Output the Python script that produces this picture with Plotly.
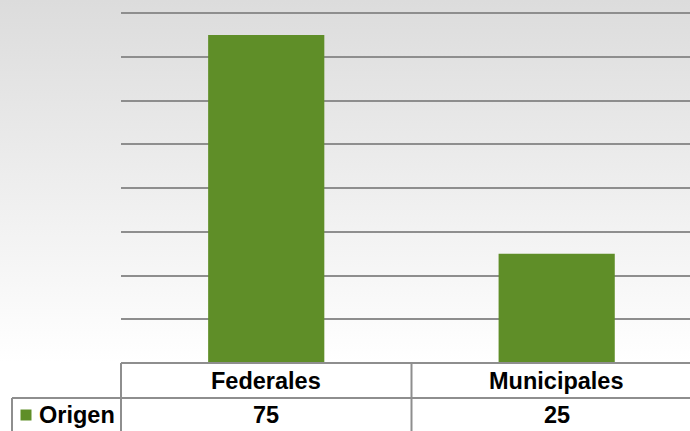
import base64
import plotly.graph_objects as go

# ---- data ----
categories = ["Federales", "Municipales"]
series_name = "Origen"
values = [75, 25]
y_max = 80
y_step = 10

# ---- geometry ----
W, H = 690, 431
ML, MR, MT, MB = 121, 0, 12, 68
PW, PH = W - ML - MR, H - MT - MB

def px_x(px):
    return (px - ML) / PW

def px_y(py):
    return (H - MB - py) / PH

bar_color = "#5f8e28"
grid_color = "#8e8e8e"
line_color = "#8e8e8e"

# gradient background as svg
svg = (
    '<svg xmlns="http://www.w3.org/2000/svg" width="690" height="431" preserveAspectRatio="none">'
    '<defs><linearGradient id="g" x1="0" y1="0" x2="0" y2="1">'
    '<stop offset="0" stop-color="#dcdcdc"/>'
    '<stop offset="0.84" stop-color="#ffffff"/>'
    '<stop offset="1" stop-color="#ffffff"/>'
    '</linearGradient></defs>'
    '<rect width="690" height="431" fill="url(#g)"/></svg>'
)
src = "data:image/svg+xml;base64," + base64.b64encode(svg.encode()).decode()

fig = go.Figure()
fig.add_trace(go.Bar(
    x=categories, y=values, name=series_name,
    marker=dict(color=bar_color, line=dict(width=0)),
    width=0.4, showlegend=False, hoverinfo="skip",
))

shapes = []
# table lines
def hline(y, x0, x1):
    shapes.append(dict(type="line", xref="paper", yref="paper",
                       x0=px_x(x0), x1=px_x(x1), y0=px_y(y), y1=px_y(y),
                       line=dict(color=line_color, width=2)))

def vline(x, y0, y1):
    shapes.append(dict(type="line", xref="paper", yref="paper",
                       x0=px_x(x), x1=px_x(x), y0=px_y(y0), y1=px_y(y1),
                       line=dict(color=line_color, width=2)))

hline(363, 121, 700)
hline(398, 12, 700)
vline(121, 363, 435)
vline(12, 398, 435)
vline(411.5, 363, 435)
# legend key square
shapes.append(dict(type="rect", xref="paper", yref="paper",
                   x0=px_x(20.5), x1=px_x(31.5), y0=px_y(409.5), y1=px_y(420.5),
                   fillcolor=bar_color, line=dict(width=0)))

font = dict(family="Liberation Sans, Arial, sans-serif", size=23.5, color="#000000")
annotations = []
for c, v in zip(categories, values):
    annotations.append(dict(x=c, xref="x", y=px_y(381), yref="paper",
                            text=f"<b>{c}</b>", showarrow=False, font=font,
                            xanchor="center", yanchor="middle"))
    annotations.append(dict(x=c, xref="x", y=px_y(415), yref="paper",
                            text=f"<b>{v}</b>", showarrow=False, font=font,
                            xanchor="center", yanchor="middle"))
annotations.append(dict(x=px_x(37), xref="paper", y=px_y(415), yref="paper",
                        text=f"<b>{series_name}</b>", showarrow=False, font=font,
                        xanchor="left", yanchor="middle"))

fig.update_layout(
    width=W, height=H,
    margin=dict(l=ML, r=MR, t=MT, b=MB, pad=0),
    paper_bgcolor="rgba(0,0,0,0)",
    plot_bgcolor="rgba(0,0,0,0)",
    images=[dict(source=src, xref="paper", yref="paper",
                 x=px_x(0), y=px_y(0), sizex=W / PW, sizey=H / PH,
                 xanchor="left", yanchor="top", sizing="stretch", layer="below")],
    xaxis=dict(type="category", categoryorder="array", categoryarray=categories,
               range=[-0.5, 1.459], showticklabels=False, showgrid=False,
               zeroline=False, showline=False, ticks=""),
    yaxis=dict(range=[0, y_max + 0.25], dtick=y_step, tick0=0,
               showticklabels=False, showgrid=True, gridcolor=grid_color,
               gridwidth=2, zeroline=False, showline=False, ticks=""),
    shapes=shapes,
    annotations=annotations,
    bargap=0.6,
)

fig.write_html(
    "out.html",
    config={"displayModeBar": False, "staticPlot": True},
    post_script="document.body.style.margin='0';document.body.style.overflow='hidden';",
)
